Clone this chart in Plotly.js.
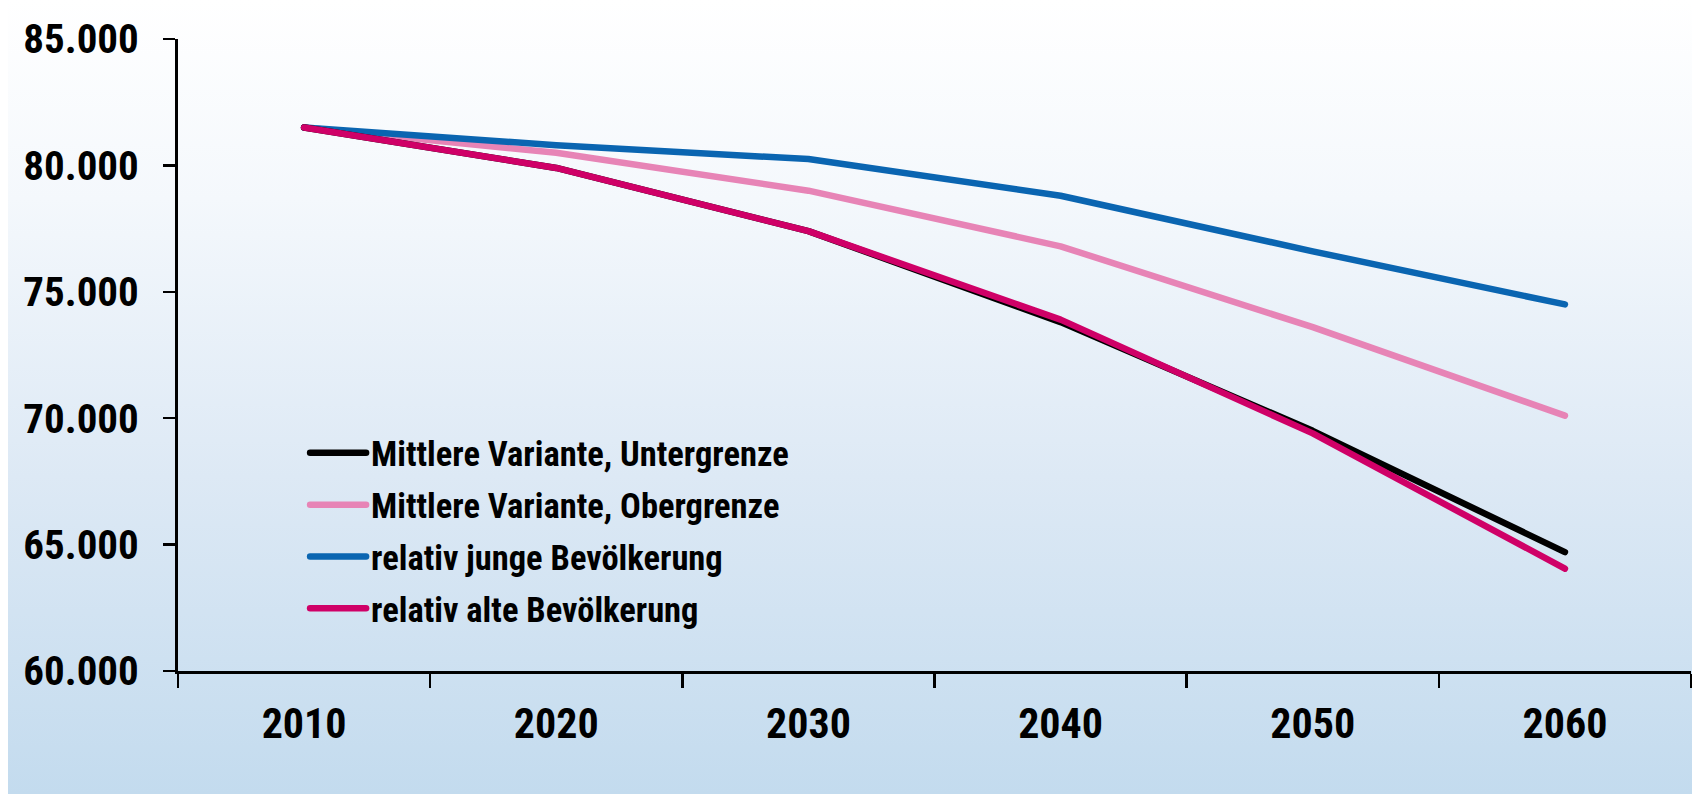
<!DOCTYPE html>
<html>
<head>
<meta charset="utf-8">
<script src="https://cdn.plot.ly/plotly-3.0.1.min.js"></script>
<style>
  html, body { margin: 0; padding: 0; background: #ffffff; }
  #bg { position: absolute; left: 8px; top: 0; width: 1684px; height: 794px;
        background: linear-gradient(to bottom, #ffffff 0%, #f4f8fc 25%, #dde9f5 60%, #c3dbee 100%); }
  #chart { position: absolute; left: 0; top: 0; width: 1692px; height: 794px; }
  #chart path.js-line { stroke-linejoin: round; stroke-linecap: round; }
  #chart .legendlines path { stroke-linecap: round; }
</style>
</head>
<body>
<div id="bg"></div>
<div id="chart"></div>
<script>
// Years (categories)
const years = ['2010', '2020', '2030', '2040', '2050', '2060'];

// Population in thousands
const untergrenze = [81500, 79900, 77400, 73800, 69500, 64700];
const obergrenze  = [81500, 80500, 79000, 76800, 73600, 70100];
const jung        = [81500, 80800, 80250, 78800, 76600, 74500];
const alt         = [81500, 79900, 77400, 73900, 69400, 64050];

const names = [
  'Mittlere Variante, Untergrenze',
  'Mittlere Variante, Obergrenze',
  'relativ junge Bevölkerung',
  'relativ alte Bevölkerung'
];
const colors = ['#000000', '#e784b6', '#0a65b1', '#cf0067'];
const series = [untergrenze, obergrenze, jung, alt];

const FONT = '"Roboto Condensed", "Liberation Sans Narrow", "Arial Narrow", sans-serif';

// draw order: pink, blue, black, magenta (magenta on top)
const order = [1, 2, 0, 3];
const traces = order.map(i => ({
  type: 'scatter',
  mode: 'lines',
  x: years,
  y: series[i],
  name: names[i],
  legendgroup: 'g' + i,
  legendrank: i + 1,
  line: { color: colors[i], width: 6.5 },
  hoverinfo: 'x+y+name'
}));

const layout = {
  width: 1692,
  height: 794,
  margin: { l: 178, r: 1, t: 39, b: 123 },
  paper_bgcolor: 'rgba(0,0,0,0)',
  plot_bgcolor: 'rgba(0,0,0,0)',
  separators: ',.',
  showlegend: true,
  legend: {
    x: 0.084, y: 0.391, xanchor: 'left', yanchor: 'top',
    bgcolor: 'rgba(0,0,0,0)',
    font: { family: FONT, size: 34.5, color: '#000000', weight: 'bold' },
    tracegroupgap: 4,
    itemwidth: 56,
    traceorder: 'grouped'
  },
  xaxis: {
    type: 'category',
    range: [-0.5, 5.5],
    tickson: 'boundaries',
    ticks: 'outside',
    ticklen: 14,
    tickwidth: 2.5,
    tickcolor: '#000000',
    showline: true,
    linecolor: '#000000',
    linewidth: 3,
    showgrid: false,
    zeroline: false,
    ticklabelstandoff: 14,
    tickfont: { family: FONT, size: 42, color: '#000000', weight: 'bold' }
  },
  yaxis: {
    range: [60000, 85000],
    dtick: 5000,
    tick0: 60000,
    tickformat: ',d',
    ticks: 'outside',
    ticklen: 12,
    tickwidth: 2.5,
    tickcolor: '#000000',
    showline: true,
    linecolor: '#000000',
    linewidth: 3,
    showgrid: false,
    zeroline: false,
    ticklabelstandoff: 16,
    tickfont: { family: FONT, size: 41, color: '#000000', weight: 'bold' }
  }
};

Plotly.newPlot('chart', traces, layout, { displayModeBar: false, staticPlot: true });
</script>
</body>
</html>
